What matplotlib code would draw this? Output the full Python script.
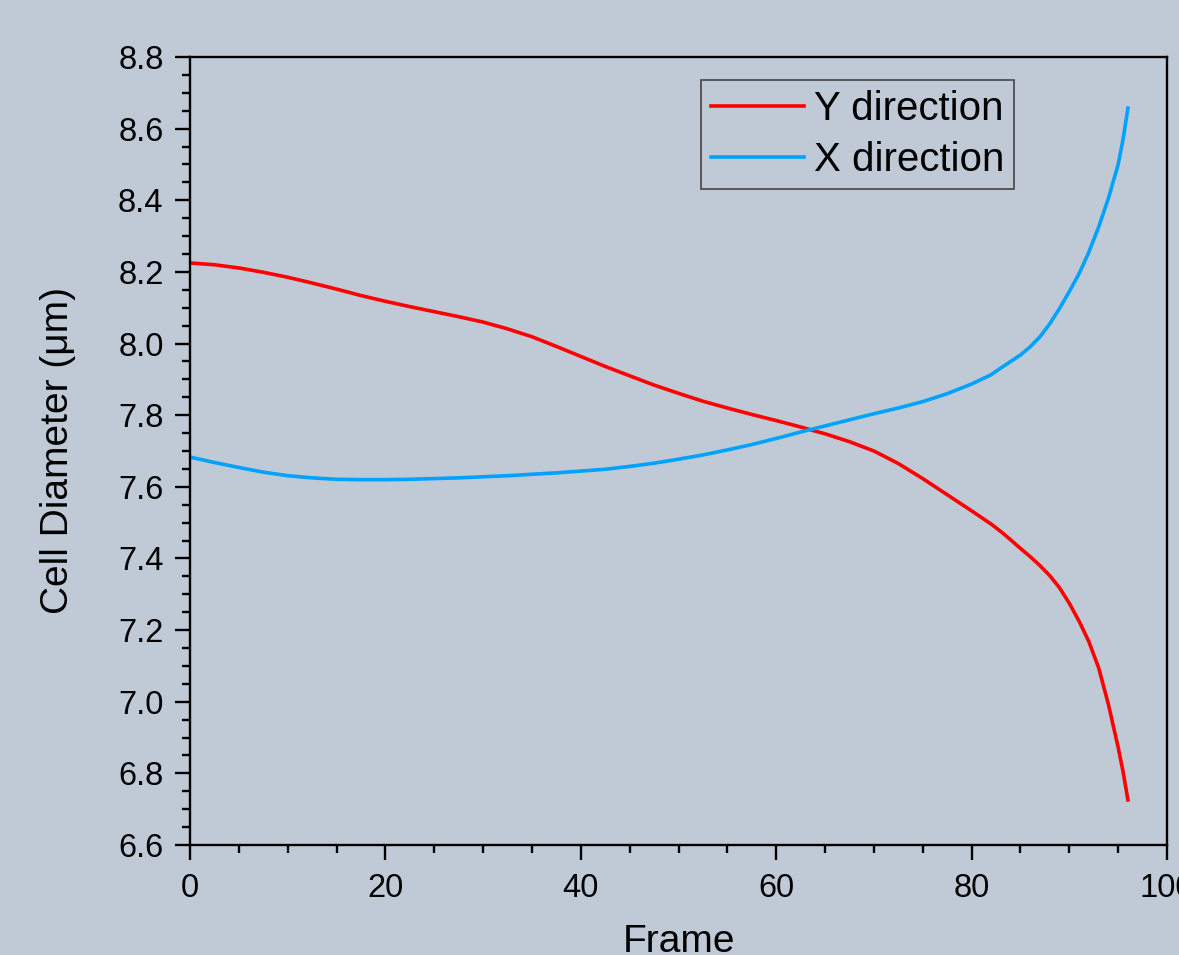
import numpy as np
import matplotlib
matplotlib.use('Agg')
import matplotlib.pyplot as plt
from matplotlib.ticker import MultipleLocator

plt.rcParams['font.family'] = ['Liberation Sans', 'DejaVu Sans']

# DATOS

frames_y = [0, 2.5, 5, 7.5, 10, 12.5, 15, 17.5, 20, 22.5, 25, 27.5, 30, 32.5,
            35, 37.5, 40, 42.5, 45, 47.5, 50, 52.5, 55, 57.5, 60, 62.5, 65,
            67.5, 70, 72.5, 75, 77.5, 80, 82, 83, 84, 85, 86, 87, 88, 89, 90,
            91, 92, 93, 94, 95, 95.5, 96]
diam_y = [8.225, 8.220, 8.211, 8.199, 8.185, 8.169, 8.152, 8.134, 8.118, 8.103,
          8.089, 8.075, 8.060, 8.041, 8.019, 7.992, 7.964, 7.936, 7.910, 7.884,
          7.861, 7.839, 7.820, 7.802, 7.785, 7.767, 7.748, 7.726, 7.700, 7.665,
          7.623, 7.578, 7.533, 7.496, 7.475, 7.452, 7.428, 7.405, 7.380, 7.352,
          7.318, 7.275, 7.225, 7.168, 7.095, 6.993, 6.873, 6.805, 6.726]

frames_x = [0, 2.5, 5, 7.5, 10, 12.5, 15, 17.5, 20, 22.5, 25, 27.5, 30, 32.5,
            35, 37.5, 40, 42.5, 45, 47.5, 50, 52.5, 55, 57.5, 60, 62.5, 65,
            67.5, 70, 72.5, 75, 77.5, 80, 82, 83, 84, 85, 86, 87, 88, 89, 90,
            91, 92, 93, 94, 95, 95.5, 96]
diam_x = [7.683, 7.668, 7.654, 7.641, 7.631, 7.625, 7.621, 7.620, 7.620, 7.621,
          7.623, 7.625, 7.628, 7.631, 7.635, 7.639, 7.644, 7.649, 7.657, 7.666,
          7.677, 7.689, 7.703, 7.718, 7.735, 7.753, 7.770, 7.787, 7.804, 7.820,
          7.838, 7.860, 7.887, 7.913, 7.932, 7.950, 7.968, 7.991, 8.019, 8.055,
          8.098, 8.145, 8.195, 8.255, 8.325, 8.405, 8.500, 8.570, 8.657]

ETIQUETAS = ['Y direction', 'X direction']
COLORES = ['#ff0000', '#00a2ff']
FONDO = '#c0cad7'

fig = plt.figure(figsize=(11.79, 9.55), dpi=100, facecolor=FONDO)
ax = fig.add_axes([190 / 1179, 110 / 955, 977 / 1179, 788 / 955])
ax.set_facecolor(FONDO)

ax.plot(frames_y, diam_y, color=COLORES[0], linewidth=2.6,
        solid_joinstyle='round', label=ETIQUETAS[0])
ax.plot(frames_x, diam_x, color=COLORES[1], linewidth=2.6,
        solid_joinstyle='round', label=ETIQUETAS[1])

ax.set_xlim(0, 100)
ax.set_ylim(6.6, 8.8)
ax.xaxis.set_major_locator(MultipleLocator(20))
ax.xaxis.set_minor_locator(MultipleLocator(5))
ax.yaxis.set_major_locator(MultipleLocator(0.2))
ax.yaxis.set_minor_locator(MultipleLocator(0.05))
ax.yaxis.set_major_formatter(plt.FuncFormatter(lambda v, p: f'{v:.1f}'))

for s in ax.spines.values():
    s.set_linewidth(1.7)
ax.tick_params(which='both', direction='out', width=1.7, top=False, right=False)
ax.tick_params(which='major', length=11, labelsize=23.5)
ax.tick_params(which='minor', length=5.5)
ax.tick_params(axis='y', which='major', pad=8)
ax.tick_params(axis='x', which='major', pad=9)

ax.set_xlabel('Frame', fontsize=28)
ax.set_ylabel('Cell Diameter (\u03bcm)', fontsize=28)
ax.xaxis.set_label_coords(0.5, -0.100)
ax.yaxis.set_label_coords(-0.117, 0.5)

leg = ax.legend(loc='upper left', bbox_to_anchor=(511 / 977, 1 - 23 / 788),
                fontsize=29, frameon=True, fancybox=False, handlelength=2.3,
                handletextpad=0.25, borderpad=0.25, labelspacing=0.32,
                borderaxespad=0)
leg.get_frame().set_edgecolor('#444444')
leg.get_frame().set_facecolor(FONDO)
leg.get_frame().set_linewidth(1.2)
leg.get_frame().set_alpha(1)

fig.savefig('out.png', dpi=100, facecolor=FONDO)
